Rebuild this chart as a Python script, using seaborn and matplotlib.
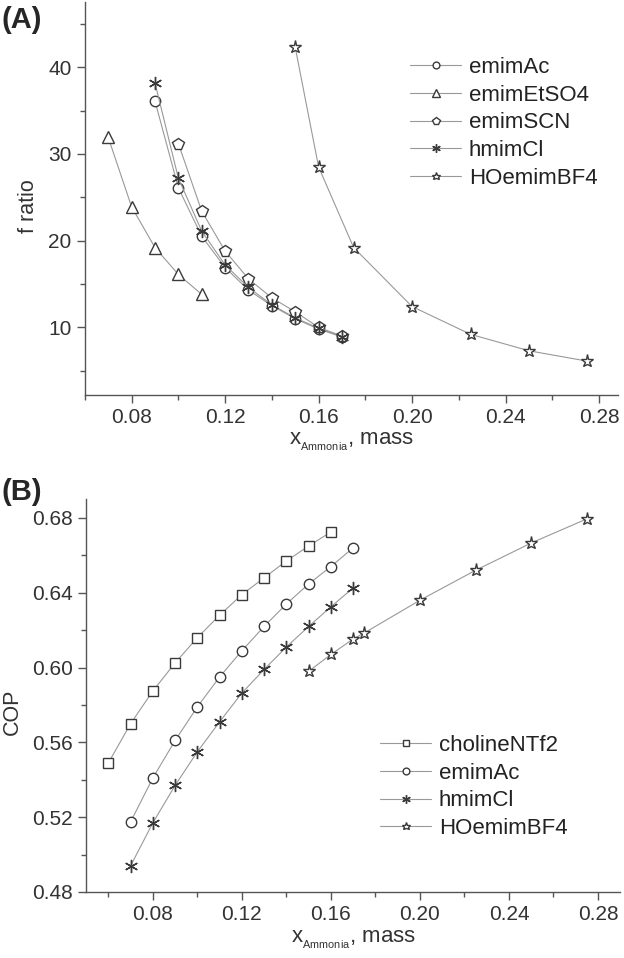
import matplotlib
matplotlib.use('Agg')
import matplotlib.pyplot as plt
from matplotlib.ticker import AutoMinorLocator, FormatStrFormatter, MultipleLocator
import seaborn as sns

sns.set_style('ticks')
plt.rcParams['font.family'] = ['Liberation Sans', 'DejaVu Sans']
plt.rcParams['mathtext.fontset'] = 'custom'
plt.rcParams['mathtext.rm'] = 'Liberation Sans'
plt.rcParams['mathtext.it'] = 'Liberation Sans'

# ---- panel A: f ratio ----
x_emimAc_a = [0.09, 0.10, 0.11, 0.12, 0.13, 0.14, 0.15, 0.16, 0.17]
f_emimAc = [36.1, 26.1, 20.5, 16.9, 14.3, 12.5, 11.0, 9.8, 8.9]
x_emimEtSO4 = [0.07, 0.08, 0.09, 0.10, 0.11]
f_emimEtSO4 = [31.9, 23.9, 19.2, 16.1, 13.8]
x_emimSCN = [0.10, 0.11, 0.12, 0.13, 0.14, 0.15, 0.16, 0.17]
f_emimSCN = [31.2, 23.4, 18.8, 15.6, 13.4, 11.8, 10.0, 9.0]
x_hmimCl_a = [0.09, 0.10, 0.11, 0.12, 0.13, 0.14, 0.15, 0.16, 0.17]
f_hmimCl = [38.2, 27.2, 21.1, 17.2, 14.6, 12.6, 11.1, 9.9, 8.9]
x_HOemim_a = [0.15, 0.16, 0.175, 0.20, 0.225, 0.25, 0.275]
f_HOemim = [42.3, 28.5, 19.2, 12.4, 9.2, 7.3, 6.1]

# ---- panel B: COP ----
x_choline = [0.06, 0.07, 0.08, 0.09, 0.10, 0.11, 0.12, 0.13, 0.14, 0.15, 0.16]
cop_choline = [0.549, 0.570, 0.5875, 0.6025, 0.616, 0.628, 0.639, 0.648, 0.657, 0.665, 0.6725]
x_emimAc_b = [0.07, 0.08, 0.09, 0.10, 0.11, 0.12, 0.13, 0.14, 0.15, 0.16, 0.17]
cop_emimAc = [0.5175, 0.541, 0.561, 0.579, 0.595, 0.609, 0.622, 0.634, 0.6447, 0.654, 0.664]
x_hmimCl_b = [0.07, 0.08, 0.09, 0.10, 0.11, 0.12, 0.13, 0.14, 0.15, 0.16, 0.17]
cop_hmimCl = [0.494, 0.517, 0.537, 0.555, 0.571, 0.5864, 0.599, 0.611, 0.622, 0.6325, 0.6426]
x_HOemim_b = [0.15, 0.16, 0.17, 0.175, 0.20, 0.225, 0.25, 0.275]
cop_HOemim = [0.598, 0.607, 0.6153, 0.6185, 0.636, 0.652, 0.6666, 0.6795]

asterisk = (6, 2, 0)
line_color = '#999999'
edge_color = '#3a3a3a'
text_color = '#333333'

fig = plt.figure(figsize=(6.24, 9.58), dpi=100)
axA = fig.add_axes([0.136, 0.5877, 0.854, 0.410])
axB = fig.add_axes([0.138, 0.0689, 0.856, 0.410])


def draw(ax, x, y, marker, label, ms=7.5):
    sns.lineplot(x=x, y=y, ax=ax, color=line_color, linewidth=0.8,
                 marker=marker, markersize=ms, mfc='white', mec=edge_color,
                 mew=1.0, label=label)


draw(axA, x_emimAc_a, f_emimAc, 'o', 'emimAc')
draw(axA, x_emimEtSO4, f_emimEtSO4, '^', 'emimEtSO4', 8.5)
draw(axA, x_emimSCN, f_emimSCN, 'p', 'emimSCN', 8.5)
draw(axA, x_hmimCl_a, f_hmimCl, asterisk, 'hmimCl', 9.5)
draw(axA, x_HOemim_a, f_HOemim, '*', 'HOemimBF4', 9.5)

draw(axB, x_choline, cop_choline, 's', 'cholineNTf2', 7)
draw(axB, x_emimAc_b, cop_emimAc, 'o', 'emimAc')
draw(axB, x_hmimCl_b, cop_hmimCl, asterisk, 'hmimCl', 9.5)
draw(axB, x_HOemim_b, cop_HOemim, '*', 'HOemimBF4', 9.5)

axA.set_xlim(0.06, 0.288)
axA.set_ylim(2.2, 47.5)
axA.yaxis.set_major_locator(MultipleLocator(10))
axB.set_xlim(0.05, 0.29)
axB.set_ylim(0.48, 0.69)
axB.yaxis.set_major_locator(MultipleLocator(0.04))
axB.yaxis.set_major_formatter(FormatStrFormatter('%.2f'))

for ax in (axA, axB):
    sns.despine(ax=ax)
    ax.xaxis.set_major_locator(MultipleLocator(0.04))
    ax.xaxis.set_major_formatter(FormatStrFormatter('%.2f'))
    ax.xaxis.set_minor_locator(AutoMinorLocator(2))
    ax.yaxis.set_minor_locator(AutoMinorLocator(2))
    ax.tick_params(which='major', length=6, width=1, color='#555555',
                   labelsize=15, labelcolor=text_color, direction='out')
    ax.tick_params(which='minor', length=3.5, width=1, color='#555555', direction='out')
    for s in ('left', 'bottom'):
        ax.spines[s].set_color('#555555')
        ax.spines[s].set_linewidth(1.0)
    ax.set_xlabel(r'x$_{{}_{\mathrm{Ammonia}}}$, mass', fontsize=16, color=text_color)

axA.set_ylabel('f ratio', fontsize=15.5, color=text_color)
axB.set_ylabel('COP', fontsize=15.5, color=text_color)
axA.yaxis.set_label_coords(-0.087, 0.48)
axB.yaxis.set_label_coords(-0.118, 0.46)
axA.xaxis.set_label_coords(0.5, -0.092)
axB.xaxis.set_label_coords(0.5, -0.095)

legA = axA.legend(loc='upper left', bbox_to_anchor=(410 / 624, 1 - 57 / 958),
                  bbox_transform=fig.transFigure, frameon=False, fontsize=16,
                  handlelength=2.3, handletextpad=0.35, labelspacing=0.3,
                  borderpad=0, borderaxespad=0, markerscale=0.65)
legB = axB.legend(loc='upper left', bbox_to_anchor=(380 / 624, 1 - 735 / 958),
                  bbox_transform=fig.transFigure, frameon=False, fontsize=16,
                  handlelength=2.3, handletextpad=0.35, labelspacing=0.3,
                  borderpad=0, borderaxespad=0, markerscale=0.65)
for leg in (legA, legB):
    for t in leg.get_texts():
        t.set_color('#222222')

fig.text(0.003, 1 - 20 / 958, '(A)', fontsize=21, fontweight='bold', va='center', ha='left')
fig.text(0.003, 1 - 492 / 958, '(B)', fontsize=21, fontweight='bold', va='center', ha='left')

fig.savefig('out.png', dpi=100)
plt.close(fig)
